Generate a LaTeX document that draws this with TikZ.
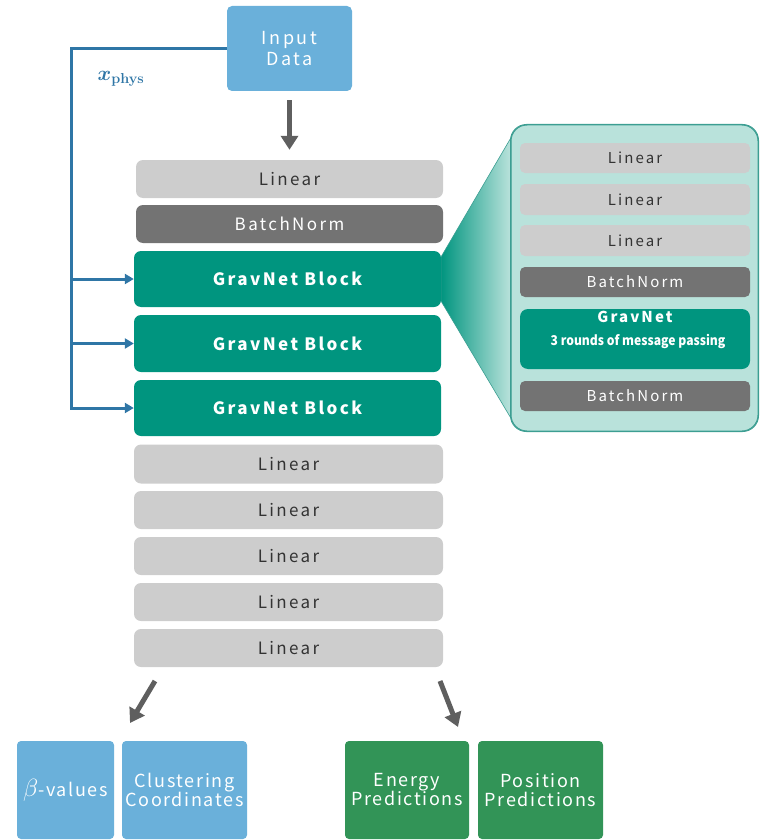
\documentclass[tikz,border=0pt]{standalone}
\usepackage[no-math]{fontspec}
\usepackage{bm}
\setmainfont{Noto Sans CJK SC}
\newfontfamily\spacedfont{Noto Sans CJK SC}[LetterSpace=14]
\newfontfamily\outfont{Noto Sans CJK SC}[LetterSpace=9]
\newfontfamily\tightfont{Noto Sans CJK SC}[FakeStretch=0.9]
\usetikzlibrary{arrows.meta}

\definecolor{inblue}{HTML}{6AB0DA}
\definecolor{busblue}{HTML}{2F76A6}
\definecolor{gvteal}{HTML}{00957F}
\definecolor{panelfill}{HTML}{B9E2DB}
\definecolor{panelline}{HTML}{3C9E92}
\definecolor{lgray}{HTML}{CDCDCD}
\definecolor{dgray}{HTML}{737373}
\definecolor{txtdark}{HTML}{333333}
\definecolor{outgreen}{HTML}{329457}
\definecolor{arrgray}{HTML}{5F5F5F}

\begin{document}
\begin{tikzpicture}[x=1pt,y=-1pt,
  blk/.style={rounded corners=7pt, inner sep=0pt, align=center},
  lin/.style={blk, fill=lgray, text=txtdark, minimum width=307pt, minimum height=38pt,
    font=\spacedfont\fontsize{17}{20}\selectfont},
  bn/.style={blk, fill=dgray, text=white, minimum width=307pt, minimum height=38pt,
    font=\spacedfont\fontsize{17}{20}\selectfont},
  gv/.style={blk, fill=gvteal, text=white, minimum width=307pt, minimum height=56pt,
    font=\spacedfont\bfseries\fontsize{17}{20}\selectfont},
  plin/.style={blk, rounded corners=5pt, fill=lgray, text=txtdark, minimum width=230pt, minimum height=30pt,
    font=\spacedfont\fontsize{15}{18}\selectfont},
  pbn/.style={plin, fill=dgray, text=white},
  outbox/.style={rounded corners=4pt, inner sep=0pt, align=center, text=white,
    minimum height=98pt, font=\outfont\fontsize{18}{20}\selectfont},
  bigarrow/.style={arrgray, line width=5pt, -{Triangle[length=14pt,width=17pt]}},
  busline/.style={busblue, line width=3pt},
  busarrow/.style={busline, -{Triangle[length=9pt,width=10pt]}}
]
\useasboundingbox (0,0) rectangle (761,840);

% input
\node[blk, rounded corners=5pt, fill=inblue, text=white, minimum width=125pt, minimum height=85pt,
  font=\spacedfont\fontsize{18}{21}\selectfont] (inp) at (289.5,48.5) {Input\\Data};

% main column
\node[lin] (lin0) at (289.5,179) {Linear};
\node[bn]  (bn0)  at (289.5,224) {BatchNorm};

% zoom panel and the funnel leading into it
\node[draw=panelline, line width=1pt, fill=panelfill, rounded corners=16pt,
  minimum width=247pt, minimum height=306pt, inner sep=0pt] (panel) at (634.5,278) {};
\shade[left color=gvteal, right color=panelfill, draw=panelline, line width=0.6pt]
  ([yshift=22pt]441,279) -- ([yshift=-14pt]panel.north west)
  -- ([yshift=14pt]panel.south west) -- ([yshift=-22pt]441,279) -- cycle;
\draw[panelline, line width=1pt, rounded corners=16pt]
  (panel.north west) rectangle (panel.south east);

\node[gv] (gb1) at (287.5,279) {GravNet Block};
\node[gv, minimum height=57pt] (gb2) at (287.5,343.5) {GravNet Block};
\node[gv] (gb3) at (287.5,408) {GravNet Block};

\node[lin, minimum width=309pt, minimum height=39pt] (l1) at (288.5,464) {Linear};
\node[lin, minimum width=309pt] (l2) at (288.5,510) {Linear};
\node[lin, minimum width=309pt] (l3) at (288.5,556) {Linear};
\node[lin, minimum width=309pt] (l4) at (288.5,602) {Linear};
\node[lin, minimum width=309pt] (l5) at (288.5,648) {Linear};

% panel contents
\node[plin] (p1) at (635,158) {Linear};
\node[plin, minimum height=31pt] (p2) at (635,199.5) {Linear};
\node[plin, minimum height=31pt] (p3) at (635,240.5) {Linear};
\node[pbn] (p4) at (635,282) {BatchNorm};
\node[plin, fill=gvteal, text=white, rounded corners=8pt, minimum height=60pt] (p5) at (635,339) {};
\node[text=white, font=\spacedfont\bfseries\fontsize{15}{18}\selectfont] (p5a) at (635,317) {GravNet};
\node[text=white, font=\tightfont\bfseries\fontsize{13.5}{16}\selectfont] (p5b) at (638,342) {3 rounds of message passing};
\node[pbn] (p6) at (635,396) {BatchNorm};

% x_phys bus
\coordinate (bus) at (71,48.5);
\draw[busline] (inp.west) -- (bus) -- ([yshift=-1.5pt]bus |- gb3.west);
\draw[busarrow] (bus |- gb1.west) -- (gb1.west);
\draw[busarrow] (bus |- gb2.west) -- (gb2.west);
\draw[busarrow] (bus |- gb3.west) -- (gb3.west);
\node[text=busblue, font=\fontsize{21}{24}\selectfont] (xlab) at (121,79) {$\bm{x}_{\mathbf{phys}}$};

% main flow arrows
\draw[bigarrow] ([yshift=-9pt]inp.south) -- ([yshift=10pt]lin0.north);
\coordinate (ls) at (155,681);
\coordinate (le) at (130,723);
\coordinate (rs) at (440,681);
\coordinate (re) at (458,727);
\draw[bigarrow] (ls) -- (le);
\draw[bigarrow] (rs) -- (re);

% outputs
\node[outbox, fill=inblue, minimum width=97pt] (beta) at (65.5,790) {{\fontsize{23}{24}\selectfont$\beta$}-values};
\node[outbox, fill=inblue, minimum width=125pt] (clus) at (184.5,790) {Clustering\\[-1pt]Coordinates};
\node[outbox, fill=outgreen, minimum width=124pt] (energy) at (407,790) {Energy\\[-1pt]Predictions};
\node[outbox, fill=outgreen, minimum width=125pt] (pos) at (540.5,790) {Position\\[-1pt]Predictions};
\end{tikzpicture}
\end{document}
